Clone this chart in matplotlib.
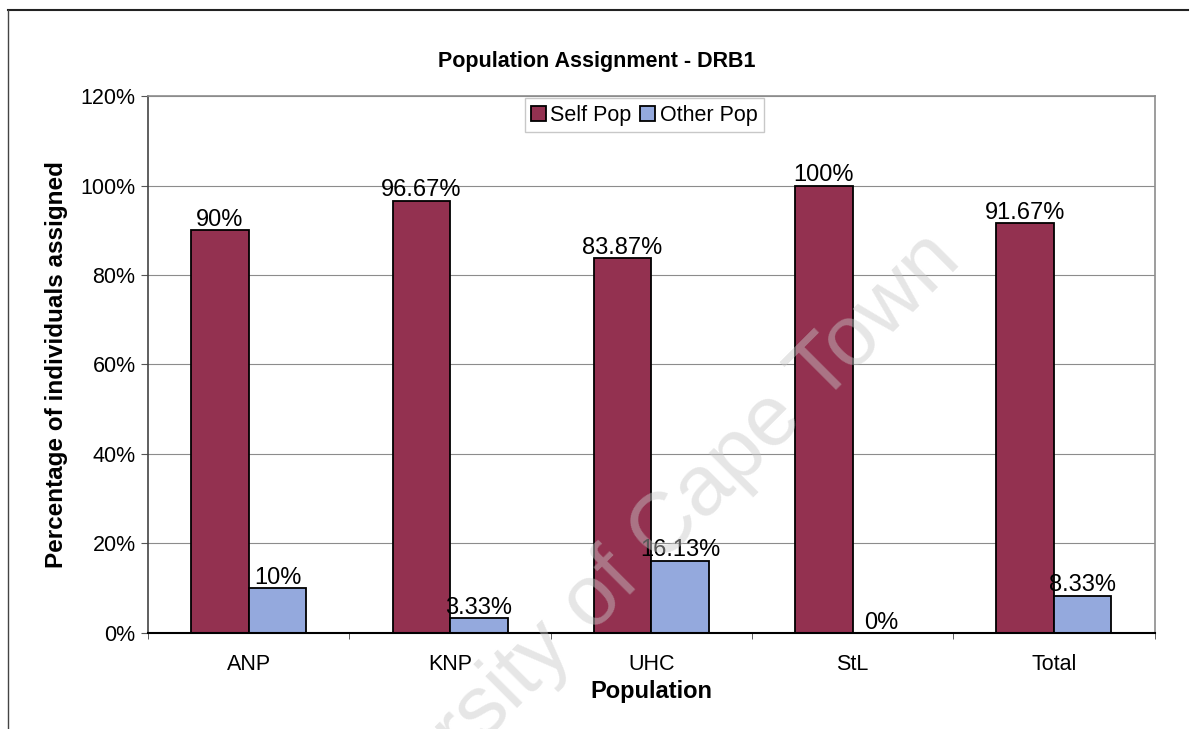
import matplotlib.pyplot as plt
import numpy as np
from matplotlib.lines import Line2D
from matplotlib.ticker import MultipleLocator, PercentFormatter

plt.rcParams['font.family'] = ['Liberation Sans', 'DejaVu Sans']

populations = ['ANP', 'KNP', 'UHC', 'StL', 'Total']
self_pop = [90, 96.67, 83.87, 100, 91.67]
other_pop = [10, 3.33, 16.13, 0, 8.33]
series_names = ['Self Pop', 'Other Pop']
colors = ['#933150', '#94A9DD']

fig = plt.figure(figsize=(11.94, 7.29), dpi=100)
ax = fig.add_axes([0.124, 0.132, 0.843, 0.736])

x = np.arange(len(populations))
width = 1.0 / 3.5  # Excel-style gap width of 150%

for i, (vals, name) in enumerate(zip([self_pop, other_pop], series_names)):
    b = ax.bar(x - width / 2 + i * width, vals, width=width, color=colors[i],
               edgecolor='black', linewidth=1.3, label=name, zorder=3)
    for rect, v in zip(b, vals):
        ax.annotate(f'{v:g}%', (rect.get_x() + rect.get_width() / 2, v),
                    xytext=(0, 3), textcoords='offset points',
                    ha='center', va='baseline', fontsize=17, zorder=5)

ax.set_xlim(-0.5, len(populations) - 0.5)
ax.set_ylim(0, 120)
ax.yaxis.set_major_locator(MultipleLocator(20))
ax.yaxis.set_major_formatter(PercentFormatter(decimals=0))
ax.grid(axis='y', color='#8c8c8c', linewidth=0.8, zorder=0)

ax.set_xticks(x)
ax.set_xticklabels(populations)
ax.set_xticks(np.arange(len(populations) + 1) - 0.5, minor=True)
ax.tick_params(axis='x', which='major', length=0, pad=15, labelsize=15.5)
ax.tick_params(axis='x', which='minor', length=4, color='#444444')
ax.tick_params(axis='y', length=5, width=0.8, color='#555555', pad=4, labelsize=15.5)

for side in ['top', 'right']:
    ax.spines[side].set_color('#8c8c8c')
    ax.spines[side].set_linewidth(1.2)
ax.spines['left'].set_color('#444444')
ax.spines['left'].set_linewidth(1.2)
ax.spines['bottom'].set_color('black')
ax.spines['bottom'].set_linewidth(1.5)
ax.spines['bottom'].set_zorder(4)

ax.set_xlabel('Population', fontsize=17, fontweight='bold', labelpad=4)
ax.set_ylabel('Percentage of individuals assigned', fontsize=17.5,
              fontweight='bold', labelpad=9)

leg = ax.legend(loc='upper center', bbox_to_anchor=(0.493, 1.0), ncol=2,
                fontsize=15.5, frameon=True, fancybox=False, edgecolor='#bbbbbb',
                handlelength=0.7, handleheight=0.7, handletextpad=0.2,
                columnspacing=0.4, borderpad=0.3, borderaxespad=0.1)
leg.get_frame().set_linewidth(1.0)

fig.text(0.5, 0.915, 'Population Assignment - DRB1', ha='center', va='center',
         fontsize=15.5, fontweight='bold')

# page frame around the chart
fig.add_artist(Line2D([0.007, 0.995], [0.986, 0.986], color='#222222', lw=1.5))
fig.add_artist(Line2D([0.007, 0.007], [0.0, 0.986], color='#444444', lw=1.0))

# faint diagonal watermark
fig.text(0.519, 0.211, 'University of Cape Town', rotation=45, ha='center',
         va='center', fontsize=62, color='#c8c8c8', alpha=0.45, zorder=10)

fig.savefig('out.png', dpi=100)
